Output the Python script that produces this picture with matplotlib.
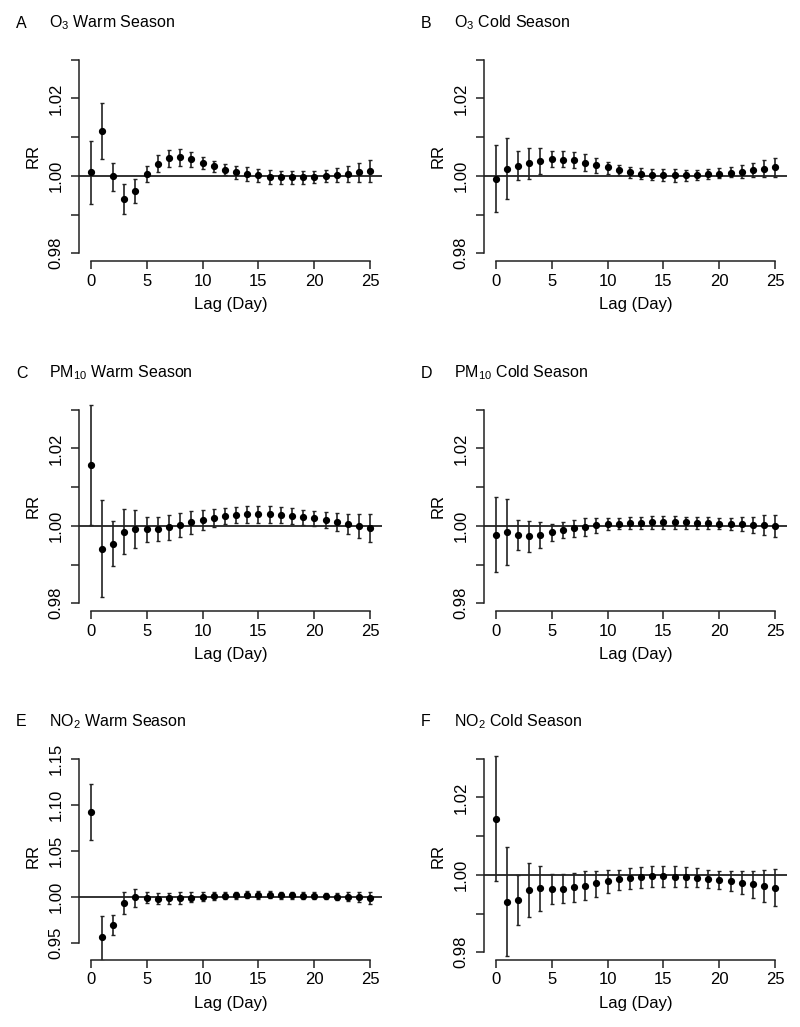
import numpy as np
import matplotlib
matplotlib.use("Agg")
import matplotlib.pyplot as plt

plt.rcParams['font.family'] = ['Liberation Sans', 'DejaVu Sans']
plt.rcParams['mathtext.fontset'] = 'custom'
plt.rcParams['mathtext.rm'] = 'Liberation Sans'

lags = np.arange(26)

# A: O3 warm
rr_a = [1.0009, 1.0116, 1.0000, 0.9940, 0.9962, 1.0005, 1.0031, 1.0046, 1.0048, 1.0043,
        1.0034, 1.0025, 1.0016, 1.0009, 1.0004, 1.0001, 0.9998, 0.9997, 0.9997, 0.9997,
        0.9998, 1.0000, 1.0003, 1.0005, 1.0009, 1.0012]
lo_a = [0.9927, 1.0043, 0.9962, 0.9902, 0.9931, 0.9983, 1.0009, 1.0022, 1.0026, 1.0023,
        1.0017, 1.0010, 1.0003, 0.9992, 0.9987, 0.9983, 0.9980, 0.9979, 0.9979, 0.9980,
        0.9981, 0.9984, 0.9984, 0.9984, 0.9984, 0.9983]
hi_a = [1.0090, 1.0187, 1.0034, 0.9978, 0.9992, 1.0026, 1.0053, 1.0067, 1.0070, 1.0062,
        1.0050, 1.0039, 1.0031, 1.0026, 1.0022, 1.0017, 1.0015, 1.0013, 1.0013, 1.0012,
        1.0013, 1.0016, 1.0021, 1.0026, 1.0033, 1.0041]

# B: O3 cold
rr_b = [0.9993, 1.0018, 1.0026, 1.0033, 1.0039, 1.0043, 1.0042, 1.0041, 1.0034, 1.0028,
        1.0022, 1.0016, 1.0009, 1.0006, 1.0003, 1.0003, 1.0002, 1.0002, 1.0003, 1.0004,
        1.0006, 1.0008, 1.0011, 1.0015, 1.0018, 1.0022]
lo_b = [0.9907, 0.9941, 0.9989, 0.9992, 1.0006, 1.0022, 1.0022, 1.0019, 1.0013, 1.0008,
        1.0005, 1.0001, 0.9995, 0.9991, 0.9988, 0.9986, 0.9984, 0.9986, 0.9988, 0.9991,
        0.9994, 0.9996, 0.9995, 0.9996, 0.9996, 0.9996]
hi_b = [1.0079, 1.0097, 1.0063, 1.0072, 1.0072, 1.0064, 1.0064, 1.0062, 1.0056, 1.0047,
        1.0037, 1.0029, 1.0024, 1.0021, 1.0018, 1.0017, 1.0017, 1.0016, 1.0016, 1.0017,
        1.0020, 1.0022, 1.0027, 1.0032, 1.0040, 1.0047]

# C: PM10 warm
rr_c = [1.0157, 0.9941, 0.9953, 0.9985, 0.9991, 0.9991, 0.9991, 0.9996, 1.0003, 1.0009,
        1.0015, 1.0021, 1.0026, 1.0028, 1.0030, 1.0030, 1.0030, 1.0028, 1.0026, 1.0022,
        1.0019, 1.0015, 1.0010, 1.0005, 1.0000, 0.9995]
lo_c = [1.0003, 0.9816, 0.9897, 0.9928, 0.9942, 0.9959, 0.9962, 0.9964, 0.9971, 0.9979,
        0.9990, 0.9998, 1.0004, 1.0007, 1.0008, 1.0008, 1.0008, 1.0007, 1.0005, 1.0003,
        0.9999, 0.9994, 0.9987, 0.9978, 0.9969, 0.9959]
hi_c = [1.0311, 1.0066, 1.0012, 1.0044, 1.0041, 1.0023, 1.0024, 1.0029, 1.0034, 1.0038,
        1.0041, 1.0043, 1.0047, 1.0049, 1.0052, 1.0052, 1.0052, 1.0049, 1.0046, 1.0041,
        1.0038, 1.0035, 1.0033, 1.0031, 1.0031, 1.0031]

# D: PM10 cold
rr_d = [0.9976, 0.9984, 0.9977, 0.9973, 0.9977, 0.9984, 0.9990, 0.9994, 0.9997, 1.0002,
        1.0004, 1.0006, 1.0007, 1.0008, 1.0009, 1.0009, 1.0009, 1.0009, 1.0008, 1.0007,
        1.0006, 1.0005, 1.0004, 1.0003, 1.0002, 1.0000]
lo_d = [0.9880, 0.9900, 0.9938, 0.9933, 0.9943, 0.9961, 0.9969, 0.9972, 0.9975, 0.9982,
        0.9988, 0.9991, 0.9991, 0.9992, 0.9992, 0.9993, 0.9992, 0.9993, 0.9991, 0.9991,
        0.9991, 0.9988, 0.9986, 0.9981, 0.9976, 0.9970]
hi_d = [1.0074, 1.0070, 1.0015, 1.0013, 1.0009, 1.0004, 1.0009, 1.0016, 1.0020, 1.0020,
        1.0020, 1.0020, 1.0022, 1.0024, 1.0025, 1.0025, 1.0025, 1.0024, 1.0024, 1.0022,
        1.0021, 1.0021, 1.0022, 1.0023, 1.0027, 1.0029]

# E: NO2 warm
rr_e = [1.0920, 0.9562, 0.9696, 0.9931, 0.9996, 0.9989, 0.9982, 0.9986, 0.9986, 0.9993,
        1.0000, 1.0007, 1.0014, 1.0018, 1.0022, 1.0022, 1.0022, 1.0022, 1.0018, 1.0014,
        1.0014, 1.0011, 1.0004, 1.0004, 1.0000, 0.9993]
lo_e = [1.0623, 0.9300, 0.9587, 0.9812, 0.9895, 0.9931, 0.9924, 0.9924, 0.9928, 0.9942,
        0.9957, 0.9971, 0.9978, 0.9978, 0.9986, 0.9982, 0.9986, 0.9982, 0.9982, 0.9982,
        0.9978, 0.9975, 0.9967, 0.9957, 0.9942, 0.9920]
hi_e = [1.1221, 0.9793, 0.9808, 1.0051, 1.0091, 1.0051, 1.0047, 1.0047, 1.0051, 1.0051,
        1.0051, 1.0051, 1.0054, 1.0058, 1.0062, 1.0062, 1.0062, 1.0058, 1.0054, 1.0051,
        1.0051, 1.0047, 1.0047, 1.0051, 1.0054, 1.0058]

# F: NO2 cold
rr_f = [1.0144, 0.9930, 0.9936, 0.9961, 0.9965, 0.9964, 0.9964, 0.9968, 0.9972, 0.9978,
        0.9983, 0.9988, 0.9991, 0.9994, 0.9996, 0.9996, 0.9995, 0.9994, 0.9993, 0.9990,
        0.9987, 0.9984, 0.9980, 0.9976, 0.9971, 0.9967]
lo_f = [0.9984, 0.9791, 0.9871, 0.9891, 0.9907, 0.9925, 0.9927, 0.9929, 0.9934, 0.9944,
        0.9953, 0.9961, 0.9964, 0.9966, 0.9968, 0.9968, 0.9968, 0.9968, 0.9968, 0.9966,
        0.9963, 0.9958, 0.9951, 0.9941, 0.9931, 0.9919]
hi_f = [1.0307, 1.0071, 1.0000, 1.0030, 1.0023, 1.0002, 1.0002, 1.0006, 1.0010, 1.0010,
        1.0012, 1.0013, 1.0017, 1.0021, 1.0023, 1.0023, 1.0023, 1.0021, 1.0017, 1.0013,
        1.0010, 1.0009, 1.0009, 1.0010, 1.0013, 1.0016]

panels = [
    ("A", r"O$_{\mathregular{3}}$ Warm Season", rr_a, lo_a, hi_a),
    ("B", r"O$_{\mathregular{3}}$ Cold Season", rr_b, lo_b, hi_b),
    ("C", r"PM$_{\mathregular{10}}$ Warm Season", rr_c, lo_c, hi_c),
    ("D", r"PM$_{\mathregular{10}}$ Cold Season", rr_d, lo_d, hi_d),
    ("E", r"NO$_{\mathregular{2}}$ Warm Season", rr_e, lo_e, hi_e),
    ("F", r"NO$_{\mathregular{2}}$ Cold Season", rr_f, lo_f, hi_f),
]

W, H = 800, 1027
fig = plt.figure(figsize=(W / 100, H / 100), dpi=100)

lefts = [79, 484]
tops = [52, 402, 751]
pw, ph = 303, 209
col = "#222222"

for i, (letter, title, rr, lo, hi) in enumerate(panels):
    r, c = divmod(i, 2)
    x0, y0 = lefts[c], tops[r]
    ax = fig.add_axes([x0 / W, 1 - (y0 + ph) / H, pw / W, ph / H])
    rr, lo, hi = map(np.asarray, (rr, lo, hi))

    if letter == "E":
        ylim = (0.94, 1.15)
        ticks = [0.95, 1.00, 1.05, 1.10, 1.15]
        labels = ["0.95", "1.00", "1.05", "1.10", "1.15"]
        bounds = (0.95, 1.15)
    else:
        ylim = (0.98, 1.03)
        ticks = [0.98, 0.99, 1.00, 1.01, 1.02, 1.03]
        labels = ["0.98", "", "1.00", "", "1.02", ""]
        bounds = (0.98, 1.03)
    pad = (ylim[1] - ylim[0]) * 0.04
    ax.set_ylim(ylim[0] - pad, ylim[1] + pad)
    ax.set_xlim(-1.04, 26.04)

    ax.axhline(1.0, color=col, lw=1.3, zorder=1)
    ax.errorbar(lags, rr, yerr=[rr - lo, hi - rr], fmt='o', color='black',
                ecolor=col, elinewidth=1.2, capsize=1.3, capthick=1.0,
                markersize=4.2, zorder=3, clip_on=True)

    for s in ("top", "right"):
        ax.spines[s].set_visible(False)
    ax.spines["left"].set_bounds(*bounds)
    ax.spines["bottom"].set_bounds(0, 25)
    for s in ("left", "bottom"):
        ax.spines[s].set_color(col)
        ax.spines[s].set_linewidth(1.1)

    ax.set_yticks(ticks)
    ax.set_yticklabels(labels, rotation=90, va="center")
    ax.set_xticks([0, 5, 10, 15, 20, 25])
    ax.tick_params(length=6, width=1.1, color=col, labelsize=12, pad=3)
    ax.tick_params(axis="y", pad=5)
    ax.set_xlabel("Lag (Day)", fontsize=12, labelpad=6)
    ax.set_ylabel("RR", fontsize=12, labelpad=6)

    fig.text((x0 - 63) / W, 1 - (y0 - 29) / H, letter, fontsize=11.5,
             va="center", ha="left")
    fig.text((x0 - 30) / W, 1 - (y0 - 29) / H, title, fontsize=11.5,
             va="center", ha="left")

fig.savefig("out.png", dpi=100)
